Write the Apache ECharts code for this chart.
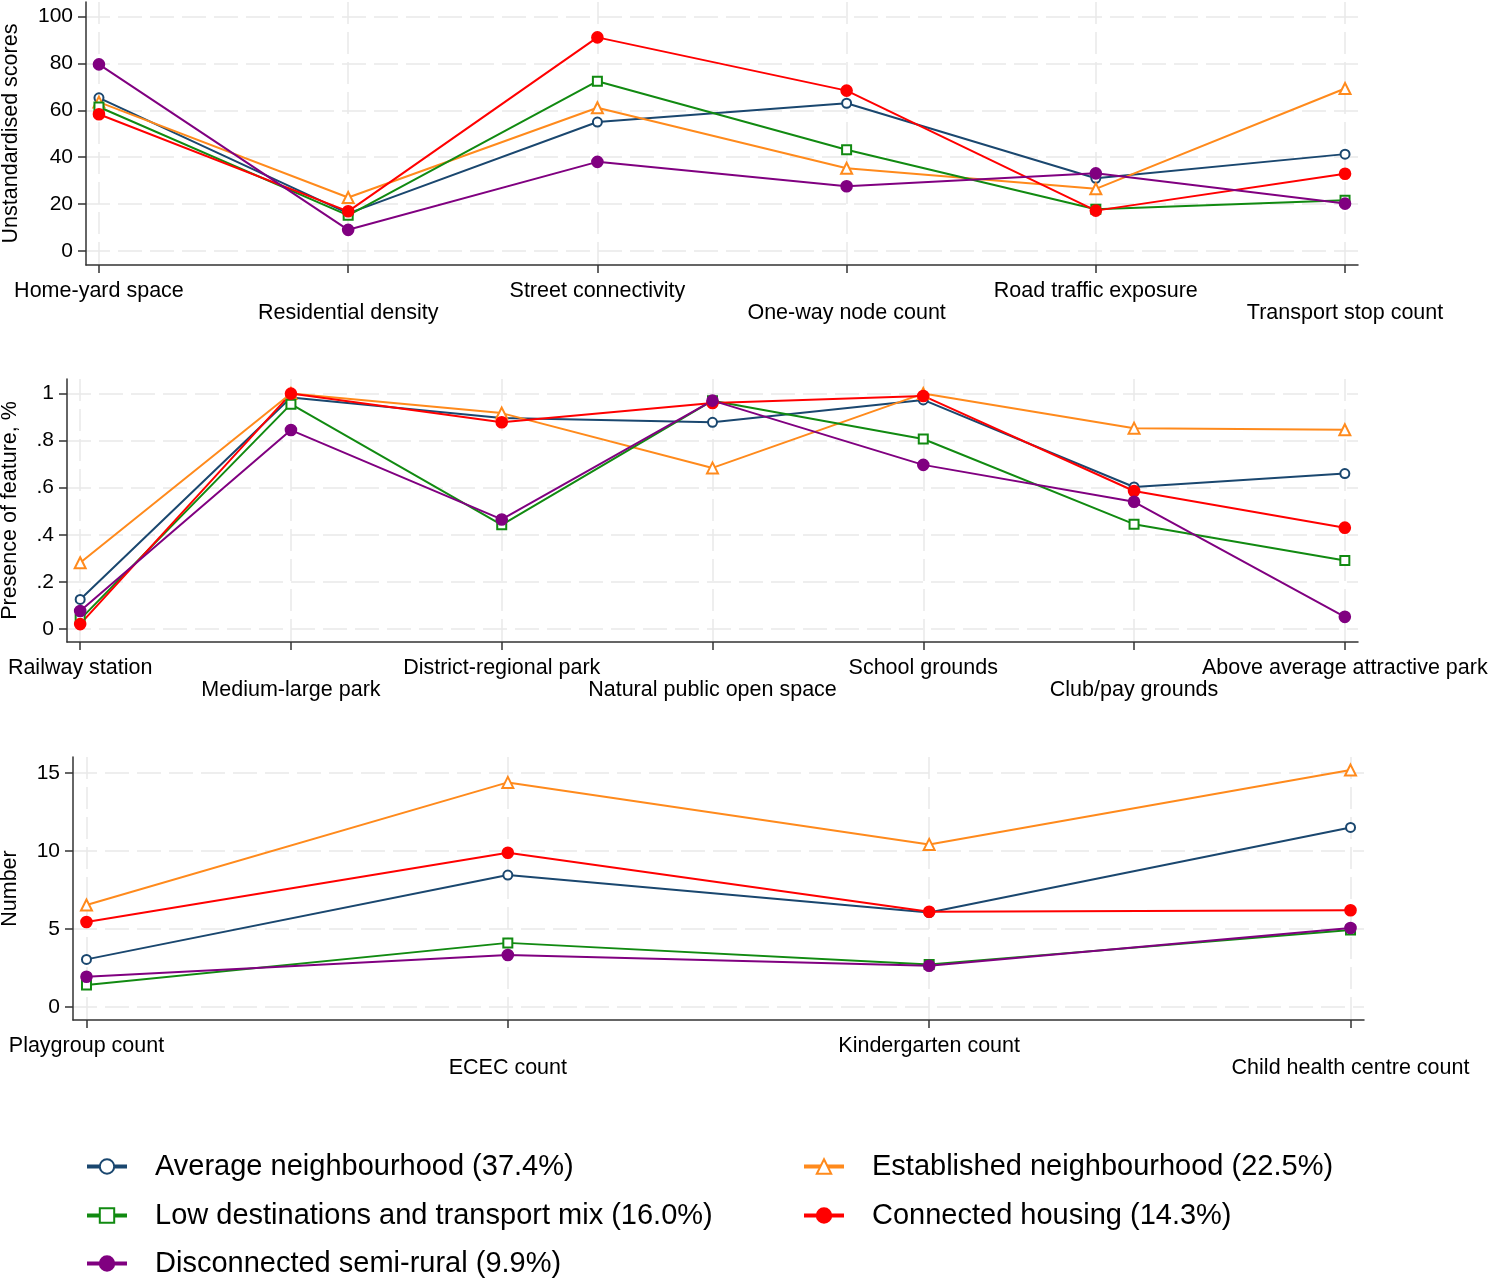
<!DOCTYPE html>
<html>
<head>
<meta charset="utf-8">
<title>Neighbourhood profiles</title>
<script src="https://cdn.jsdelivr.net/npm/echarts@6/dist/echarts.min.js"></script>
<style>
  html, body { margin: 0; padding: 0; background: #fff; }
  #chart { width: 1490px; height: 1279px; }
</style>
</head>
<body>
<div id="chart"></div>
<script>
// ---- data ----
var seriesNames = [
  'Average neighbourhood (37.4%)',
  'Established neighbourhood (22.5%)',
  'Low destinations and transport mix (16.0%)',
  'Connected housing (14.3%)',
  'Disconnected semi-rural (9.9%)'
];

// panel 1: unstandardised scores
var cats1 = ['Home-yard space', 'Residential density', 'Street connectivity',
  'One-way node count', 'Road traffic exposure', 'Transport stop count'];
var avg1 = [65.3, 16.0, 55.0, 63.0, 31.0, 41.3];
var est1 = [63.5, 22.8, 61.1, 35.3, 26.5, 69.3];
var low1 = [61.4, 15.2, 72.4, 43.2, 17.8, 21.6];
var con1 = [58.3, 16.9, 91.1, 68.4, 17.2, 32.9];
var dis1 = [79.6, 9.0, 38.0, 27.6, 33.1, 20.2];
var yTicks1 = [0, 20, 40, 60, 80, 100];
var yLabels1 = ['0', '20', '40', '60', '80', '100'];

// panel 2: presence of feature
var cats2 = ['Railway station', 'Medium-large park', 'District-regional park',
  'Natural public open space', 'School grounds', 'Club/pay grounds', 'Above average attractive park'];
var avg2 = [0.125, 0.983, 0.896, 0.878, 0.973, 0.603, 0.660];
var est2 = [0.281, 1.000, 0.917, 0.684, 1.000, 0.853, 0.846];
var low2 = [0.040, 0.955, 0.442, 0.970, 0.807, 0.445, 0.290];
var con2 = [0.020, 1.000, 0.878, 0.960, 0.990, 0.586, 0.430];
var dis2 = [0.076, 0.845, 0.465, 0.970, 0.697, 0.540, 0.051];
var yTicks2 = [0, 0.2, 0.4, 0.6, 0.8, 1];
var yLabels2 = ['0', '.2', '.4', '.6', '.8', '1'];

// panel 3: counts
var cats3 = ['Playgroup count', 'ECEC count', 'Kindergarten count', 'Child health centre count'];
var avg3 = [3.04, 8.45, 6.05, 11.51];
var est3 = [6.53, 14.40, 10.42, 15.19];
var low3 = [1.39, 4.10, 2.72, 4.93];
var con3 = [5.44, 9.88, 6.10, 6.19];
var dis3 = [1.93, 3.32, 2.63, 5.05];
var yTicks3 = [0, 5, 10, 15];
var yLabels3 = ['0', '5', '10', '15'];

var neighbourhoodChart = {
  font : 'Liberation Sans, Arial, sans-serif',
  axisColor : '#333333',
  gridColor : '#e9e9e9',
  styles : [
    { color: '#1a476f', symbol: 'emptyCircle', size: 9 },
    { color: '#ff8a1c', symbol: 'emptyTriangle', size: 11 },
    { color: '#118a11', symbol: 'emptyRect', size: 9 },
    { color: '#ff0000', symbol: 'circle', size: 11 },
    { color: '#800080', symbol: 'circle', size: 11 }
  ],

  /**
   * positions 1..n for the category ticks (step 2 picks one label row)
   */
  positions : function(n, start, step) {
    var p = [];
    for (var i = start; i <= n; i += step) p.push(i);
    return p;
  },

  toPoints : function(vals) {
    return vals.map(function(v, i) { return [i + 1, v]; });
  },

  /**
   * main x axis: line, ticks, grid lines and the first row of labels.
   * second row of labels sits on a bare axis in the same grid.
   */
  xAxisFor : function(idx, cats, pad, row) {
    var me = this;
    var main = row == 0;
    return {
      gridIndex : idx,
      type : 'value',
      position : 'bottom',
      offset : 0,
      min : 1 - pad,
      max : cats.length + pad,
      axisLine : { show: main, onZero: false, lineStyle: { color: me.axisColor, width: 1.5 } },
      axisTick : {
        show : main,
        customValues : this.positions(cats.length, 1, 1),
        length : 8,
        lineStyle : { color: me.axisColor, width: 1.5 }
      },
      axisLabel : {
        customValues : this.positions(cats.length, row + 1, 2),
        margin : main ? 15 : 37,
        color : '#000',
        fontFamily : me.font,
        fontSize : 21.5,
        hideOverlap : false,
        formatter : function(v) {
          return cats[Math.round(v) - 1];
        }
      },
      splitLine : { show: main, lineStyle: { color: me.gridColor, width: 1.5, type: [22, 8] } }
    };
  },

  yAxisFor : function(idx, min, max, ticks, labels, name, gap) {
    var me = this;
    return {
      gridIndex : idx,
      type : 'value',
      min : min,
      max : max,
      name : name,
      nameLocation : 'middle',
      nameRotate : 90,
      nameGap : gap,
      nameTextStyle : { color: '#000', fontFamily: me.font, fontSize: 21.5 },
      axisLine : { show: true, onZero: false, lineStyle: { color: me.axisColor, width: 1.5 } },
      axisTick : { show: true, customValues: ticks, length: 8, lineStyle: { color: me.axisColor, width: 1.5 } },
      axisLabel : {
        customValues : ticks,
        margin : 13,
        color : '#000',
        fontFamily : me.font,
        fontSize : 21,
        formatter : function(v) {
          for (var i = 0; i < ticks.length; i++) {
            if (Math.abs(ticks[i] - v) < 1e-9) return labels[i];
          }
          return '';
        }
      },
      splitLine : { show: true, lineStyle: { color: me.gridColor, width: 1.5, type: [24, 8] } }
    };
  },

  buildSeries : function() {
    var me = this;
    var panels = [
      [avg1, est1, low1, con1, dis1],
      [avg2, est2, low2, con2, dis2],
      [avg3, est3, low3, con3, dis3]
    ];
    var out = [];
    for (var p = 0; p < panels.length; p++) {
      for (var s = 0; s < seriesNames.length; s++) {
        var st = me.styles[s];
        out.push({
          name : seriesNames[s],
          type : 'line',
          xAxisIndex : p,
          yAxisIndex : p,
          data : me.toPoints(panels[p][s]),
          symbol : st.symbol,
          symbolSize : st.size,
          showAllSymbol : true,
          animation : false,
          lineStyle : { color: st.color, width: 2 },
          itemStyle : { color: st.color, borderColor: st.color, borderWidth: 1.6 },
          emphasis : { disabled: true }
        });
      }
    }
    return out;
  },

  buildLegends : function() {
    var me = this;
    var spots = [
      { left: 85, top: 1152 }, { left: 802, top: 1152 },
      { left: 85, top: 1201 }, { left: 802, top: 1201 },
      { left: 85, top: 1249 }
    ];
    return seriesNames.map(function(n, i) {
      return {
        data : [n],
        left : spots[i].left,
        top : spots[i].top,
        padding : 0,
        itemWidth : 40,
        itemHeight : 18,
        selectedMode : false,
        lineStyle : { width: 4 },
        textStyle : { color: '#000', fontFamily: me.font, fontSize: 29, padding: [0, 0, 0, 23] }
      };
    });
  },

  init : function() {
    var chart = echarts.init(document.getElementById('chart'), null, { renderer: 'canvas' });
    chart.setOption({
      backgroundColor : '#ffffff',
      animation : false,
      legend : this.buildLegends(),
      grid : [
        { left: 86, right: 132, top: 2, height: 263, outerBoundsMode: 'none' },
        { left: 67, right: 132, top: 379, height: 263, outerBoundsMode: 'none' },
        { left: 73, right: 126, top: 757, height: 263, outerBoundsMode: 'none' }
      ],
      xAxis : [
        this.xAxisFor(0, cats1, 0.052, 0),
        this.xAxisFor(1, cats2, 0.0625, 0),
        this.xAxisFor(2, cats3, 0.032, 0),
        this.xAxisFor(0, cats1, 0.052, 1),
        this.xAxisFor(1, cats2, 0.0625, 1),
        this.xAxisFor(2, cats3, 0.032, 1)
      ],
      yAxis : [
        this.yAxisFor(0, -6, 106.2, yTicks1, yLabels1, 'Unstandardised scores', 64),
        this.yAxisFor(1, -0.056, 1.062, yTicks2, yLabels2, 'Presence of feature, %', 46),
        this.yAxisFor(2, -0.85, 16.03, yTicks3, yLabels3, 'Number', 52)
      ],
      series : this.buildSeries()
    });
  }
};

neighbourhoodChart.init();
</script>
</body>
</html>
